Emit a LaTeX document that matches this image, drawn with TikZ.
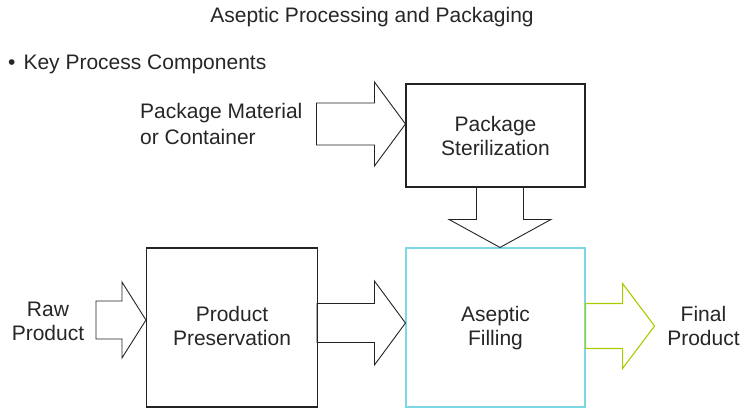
\documentclass[tikz,border=0pt]{standalone}
\usepackage{fontspec}
\setmainfont{Liberation Sans}
\usetikzlibrary{calc}
\definecolor{boxline}{RGB}{35,35,35}
\definecolor{cyanline}{RGB}{125,215,228}
\definecolor{greenline}{RGB}{165,205,0}
\newcommand\RBlock[6]{% tip, head len, body len, body half, head half, style
  \draw[#6] #1 -- ++(-#2,-#5) -- ++(0,#5-#4) -- ++(-#3,0) -- ++(0,2*#4) -- ++(#3,0) -- ++(0,#5-#4) -- cycle;}
\newcommand\DBlock[6]{%
  \draw[#6] #1 -- ++(-#5,-#2) -- ++(#5-#4,0) -- ++(0,-#3) -- ++(2*#4,0) -- ++(0,#3) -- ++(#5-#4,0) -- cycle;}
\begin{document}
\begin{tikzpicture}[x=1pt,y=-1pt,
  every node/.style={font=\fontsize{21}{23.5}\selectfont, inner sep=0pt, text=black!85},
  procbox/.style={draw=boxline, line width=1.1pt, minimum width=#1, inner sep=0pt},
  blockarrow/.style={draw=boxline, line width=0.9pt, line join=miter},
  lbl/.style={align=center, anchor=base}]
\useasboundingbox (0,0) rectangle (744,408);
% boxes
\node[procbox=179pt, minimum height=103pt] (ster) at (495.5,135.5) {};
\node[procbox=179pt, minimum height=159pt, draw=cyanline] (fill) at (495.5,327.5) {};
\node[procbox=171pt, minimum height=159pt] (pres) at (232,327.5) {};
% texts
\node[anchor=base] (title) at (372,22) {Aseptic Processing and Packaging};
\node[anchor=base west] (bullet) at (8,69) {•\hspace{8pt}Key Process Components};
\node[anchor=base west, align=left, font=\fontsize{21}{25.7}\selectfont] (pkgmat) at (140,144) {Package Material\\or Container};
\node[lbl] (sterlbl) at (495.5,155) {Package\\Sterilization};
\node[lbl] (preslbl) at (232,345) {Product\\Preservation};
\node[lbl] (filllbl) at (495.5,345) {Aseptic\\Filling};
\node[lbl] (finallbl) at (703.5,345) {Final\\Product};
\node[lbl] (rawlbl) at (48,340) {Raw\\Product};
% block arrows
\RBlock{($(ster.west)+(0,-11.5)$)}{31}{58}{21}{42}{blockarrow}
\RBlock{($(pres.west)+(0,-7.5)$)}{24}{26}{19}{38}{blockarrow}
\RBlock{($(fill.west)+(0,-4.5)$)}{31}{57.5}{19.5}{42}{blockarrow}
\DBlock{($(fill.north)+(4.5,0)$)}{28}{33}{23.5}{51}{blockarrow}
\RBlock{($(fill.east)+(69,-1.5)$)}{32}{37}{22.5}{42.5}{blockarrow, draw=greenline, line width=1.1pt}
\end{tikzpicture}
\end{document}
